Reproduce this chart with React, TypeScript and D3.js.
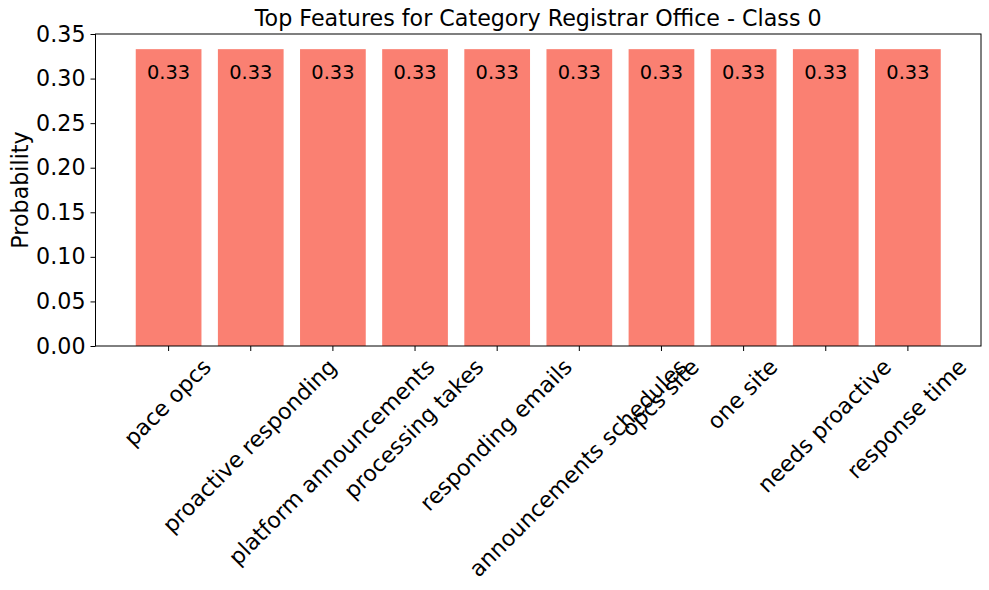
import { useEffect, useRef } from "react";
import * as d3 from "d3";

const features = [
  "pace opcs",
  "proactive responding",
  "platform announcements",
  "processing takes",
  "responding emails",
  "announcements schedules",
  "opcs site",
  "one site",
  "needs proactive",
  "response time",
];
const probs = [0.333, 0.333, 0.333, 0.333, 0.333, 0.333, 0.333, 0.333, 0.333, 0.333];
const yTicks = [0, 0.05, 0.1, 0.15, 0.2, 0.25, 0.3, 0.35];

const W = 989;
const H = 590;
const margin = { top: 34, right: 8, bottom: 244, left: 95.5 };
const FONT = "DejaVu Sans, sans-serif";
const FS = 22.2;

const App = () => {
  const ref = useRef<SVGSVGElement>(null);

  useEffect(() => {
    const svg = d3.select(ref.current);
    svg.selectAll("*").remove();
    const iw = W - margin.left - margin.right;
    const ih = H - margin.top - margin.bottom;
    const g = svg.append("g").attr("transform", `translate(${margin.left},${margin.top})`);

    // matplotlib style: bars width 0.8, 5% margins
    const x = d3.scaleLinear().domain([-0.89, features.length - 1 + 0.89]).range([0, iw]);
    const y = d3.scaleLinear().domain([0, 0.35]).range([ih, 0]);
    const bw = x(0.8) - x(0);

    g.selectAll(".bar").data(probs).enter().append("rect")
      .attr("x", (d, i) => x(i - 0.4))
      .attr("y", d => y(d))
      .attr("width", bw)
      .attr("height", d => ih - y(d))
      .attr("fill", "#FA8072");

    g.selectAll(".val").data(probs).enter().append("text")
      .attr("x", (d, i) => x(i))
      .attr("y", d => y(d) + 30)
      .attr("text-anchor", "middle")
      .attr("font-family", FONT)
      .attr("font-size", 19.4)
      .text(d => d.toFixed(2));

    // frame
    g.append("rect").attr("width", iw).attr("height", ih)
      .attr("fill", "none").attr("stroke", "black").attr("stroke-width", 1);

    // y axis
    const ya = g.append("g").call(d3.axisLeft(y).tickValues(yTicks).tickFormat(d3.format(".2f")).tickSize(5).tickPadding(5));
    ya.select(".domain").remove();
    ya.selectAll("text").attr("font-family", FONT).attr("font-size", FS).attr("fill", "black");
    ya.selectAll("line").attr("stroke", "black");

    // x ticks, rotated 45deg, bbox centred under the tick like matplotlib
    const xa = g.append("g").attr("transform", `translate(0,${ih})`);
    features.forEach((f, i) => {
      xa.append("line").attr("x1", x(i)).attr("x2", x(i)).attr("y1", 0).attr("y2", 5).attr("stroke", "black");
      const t = xa.append("text")
        .attr("font-family", FONT)
        .attr("font-size", FS)
        .attr("text-anchor", "middle")
        .attr("dominant-baseline", "central")
        .text(f);
      const w = (t.node() as SVGTextElement).getComputedTextLength();
      const h = FS * 1.1;
      const bh = (w + h) * Math.SQRT1_2;
      const cy = 8 + bh / 2;
      t.attr("transform", `translate(${x(i) - 1.5},${cy}) rotate(-45)`);
    });

    svg.append("text")
      .attr("x", margin.left + iw / 2)
      .attr("y", 26)
      .attr("text-anchor", "middle")
      .attr("font-family", FONT)
      .attr("font-size", FS)
      .text("Top Features for Category Registrar Office - Class 0");

    svg.append("text")
      .attr("transform", `translate(28,${margin.top + ih / 2}) rotate(-90)`)
      .attr("text-anchor", "middle")
      .attr("font-family", FONT)
      .attr("font-size", FS)
      .text("Probability");
  }, []);

  return <svg ref={ref} width={W} height={H} style={{ display: "block", position: "absolute", left: 0, top: 0 }} />;
};

export default App;
